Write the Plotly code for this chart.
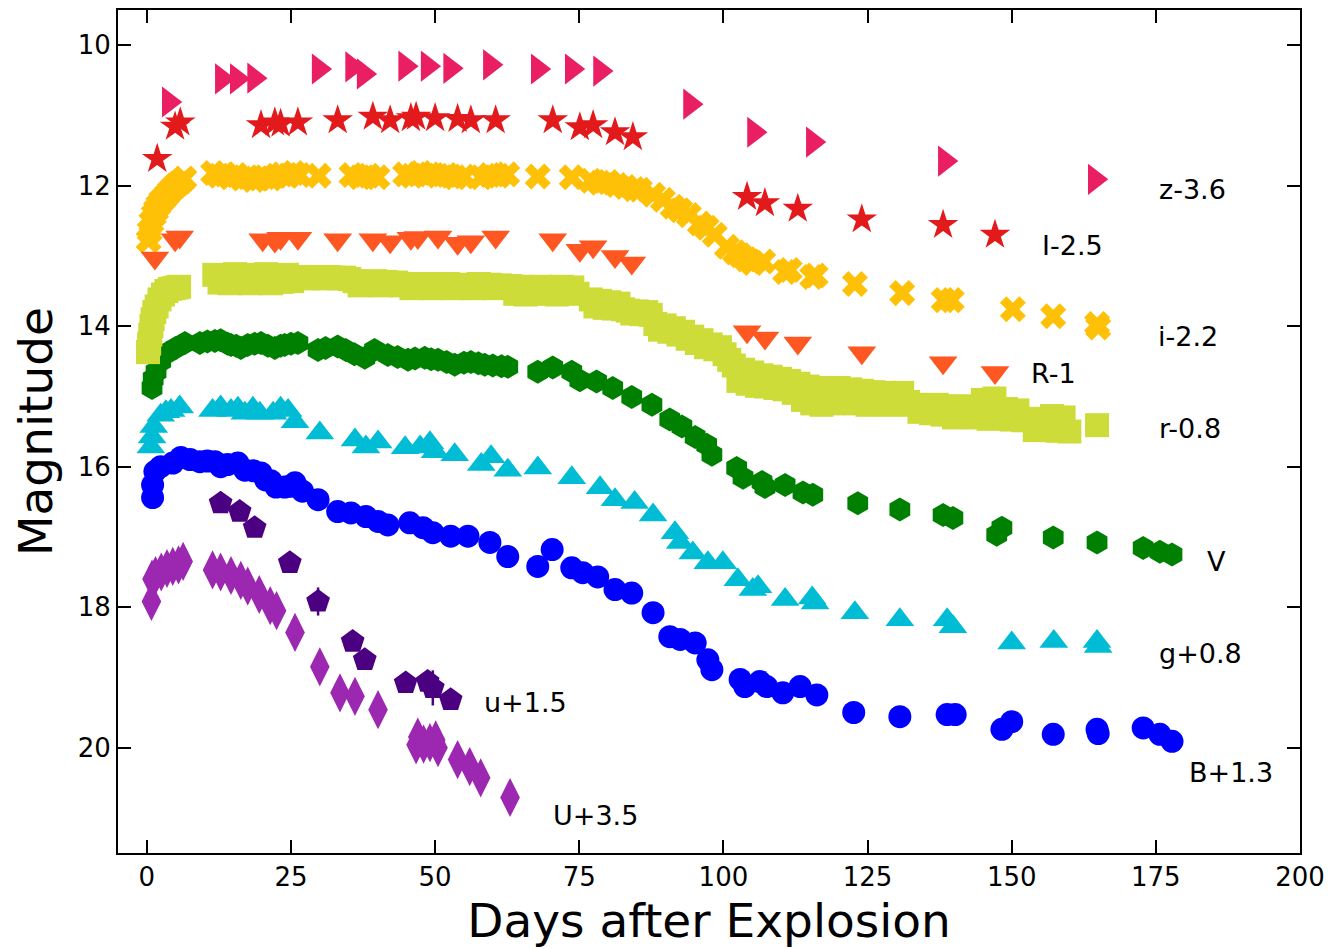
import plotly.graph_objects as go

# ---------------- data ----------------
z_days = [3.8, 13.0, 15.6, 18.6, 29.8, 35.6, 37.6, 44.8, 48.7, 52.6, 59.5, 67.8, 73.7, 78.6, 94.2, 105.3, 115.5, 138.4, 164.4]
z_mag = [10.81, 10.48, 10.48, 10.47, 10.34, 10.31, 10.41, 10.30, 10.30, 10.33, 10.28, 10.34, 10.34, 10.37, 10.84, 11.24, 11.38, 11.65, 11.91]

I_days = [1.8, 4.9, 5.8, 19.8, 22.2, 23.2, 26.2, 33.1, 39.2, 42.2, 45.8, 46.7, 50.0, 53.9, 56.2, 60.5, 70.4, 75.1, 77.4, 81.2, 84.3, 104.1, 107.2, 112.9, 124.0, 138.1, 147.1]
I_mag = [11.62, 11.16, 11.10, 11.14, 11.10, 11.12, 11.10, 11.07, 11.02, 11.07, 11.04, 11.02, 11.04, 11.05, 11.07, 11.07, 11.07, 11.17, 11.14, 11.24, 11.31, 12.16, 12.25, 12.33, 12.48, 12.56, 12.70]

i_days = [0.3, 0.5, 0.8, 1.2, 1.6, 2.0, 2.5, 3.0, 3.5, 4.0, 4.5, 5.0, 5.5, 6.0, 6.5,
          11.5, 12.5, 13.5, 14.5, 15.5, 16.5, 17.5, 18.5, 19.5, 20.5, 21.5, 22.5, 23.5, 24.5, 25.5, 26.5,
          29.8, 35.5, 37.0, 38.5, 40.0, 44.8, 46.0, 47.5, 49.0, 50.5, 52.0, 53.5, 55.0, 58.0, 59.5, 61.0, 62.5,
          67.8, 73.7, 77.0, 78.6, 80.0, 81.5, 83.0, 84.5, 85.5, 87.8, 89.5, 91.2, 92.5, 94.0, 95.9, 97.1, 98.5,
          100.6, 102.0, 102.9, 104.0, 105.1, 106.9, 110.7, 111.5, 115.4, 116.0, 122.8, 131.0, 138.2, 139.6,
          150.2, 157.2, 164.8, 165.0]
i_mag = [12.78, 12.65, 12.52, 12.42, 12.35, 12.28, 12.22, 12.18, 12.13, 12.08, 12.04, 12.00, 11.97, 11.94, 11.90,
         11.82, 11.86, 11.84, 11.88, 11.85, 11.90, 11.88, 11.92, 11.90, 11.88, 11.90, 11.86, 11.84, 11.86, 11.82, 11.85,
         11.86, 11.85, 11.88, 11.86, 11.88, 11.84, 11.86, 11.82, 11.84, 11.86, 11.85, 11.88, 11.87, 11.88, 11.85, 11.86, 11.84,
         11.87, 11.88, 11.93, 11.96, 11.95, 11.99, 12.02, 12.05, 12.06, 12.13, 12.20, 12.30, 12.35, 12.42, 12.54, 12.60, 12.70,
         12.87, 12.95, 12.99, 13.05, 13.10, 13.08, 13.23, 13.20, 13.30, 13.28, 13.40, 13.53, 13.63, 13.63,
         13.76, 13.86, 13.97, 14.02]

R_days = [1.4, 4.9, 5.7, 20.1, 22.2, 23.2, 26.2, 33.1, 39.2, 42.2, 45.8, 47.0, 50.5, 53.9, 56.2, 60.5, 70.4, 75.1, 77.4, 81.2, 84.1, 104.1, 107.2, 112.9, 124.0, 138.1, 147.1]
R_mag = [13.03, 12.77, 12.73, 12.77, 12.79, 12.75, 12.75, 12.77, 12.77, 12.80, 12.75, 12.74, 12.73, 12.82, 12.80, 12.73, 12.77, 12.92, 12.87, 13.01, 13.10, 14.08, 14.17, 14.24, 14.38, 14.52, 14.66]

r_days = [0.2, 0.4, 0.6, 0.8, 1.0, 1.3, 1.7, 2.2, 2.8, 3.4, 4.0, 4.6, 5.2, 5.6,
          11.7, 12.6, 13.5, 14.4, 15.3, 16.2, 17.1, 18.0, 18.9, 19.8, 20.7, 21.6, 22.5, 23.4, 24.3, 25.2,
          26.1, 27.0, 27.9, 28.8, 29.7, 30.6, 31.5, 32.4, 33.3, 34.2, 35.1, 36.0, 36.9, 37.8, 38.7, 39.6,
          40.5, 41.4, 42.3, 43.2, 44.1, 45.0, 45.9, 46.8, 47.7, 48.6, 49.5, 50.4, 51.3, 52.2, 53.1, 54.0,
          54.9, 55.8, 56.7, 57.6, 58.5, 59.4, 60.3, 61.2, 62.1, 63.0, 63.9, 64.8, 65.7, 66.6, 67.5, 68.4,
          69.3, 70.2, 71.1, 72.0, 72.9, 73.8, 74.7,
          77.0, 77.8, 78.6, 79.4, 80.2, 81.0, 81.8, 82.6, 83.4, 84.2, 85.0, 85.8, 86.6, 87.4, 88.2, 89.0,
          89.8, 90.6, 91.4, 92.2, 93.0, 93.8, 94.6, 95.4, 96.2, 97.0, 97.8, 98.6, 99.4, 100.2, 101.0, 101.8,
          102.6, 103.4, 104.2, 105.0, 105.8, 106.6, 107.4, 108.2, 109.0, 109.8, 110.6, 111.4, 112.2, 113.0,
          113.8, 114.6, 115.4, 116.2, 117.0, 118.0, 119.0, 120.0, 121.0, 122.0, 123.0, 124.0, 125.0, 126.0,
          127.0, 128.0, 129.0, 130.0, 131.0, 132.0, 133.0, 134.0, 135.0, 136.0, 137.0, 138.0, 139.0, 140.0,
          141.0, 142.0, 143.0, 144.0, 145.0, 146.0, 147.0, 148.0, 149.0, 150.0, 151.0, 152.0, 153.0, 154.0,
          155.0, 156.0, 157.0, 158.0, 159.0, 160.0, 164.8]
r_mag = [14.37, 14.25, 14.12, 14.00, 13.90, 13.80, 13.72, 13.62, 13.55, 13.50, 13.47, 13.46, 13.45, 13.44,
         13.27, 13.38, 13.28, 13.39, 13.26, 13.37, 13.28, 13.39, 13.27, 13.38, 13.26, 13.39, 13.28, 13.37, 13.27, 13.36,
         13.31, 13.30, 13.32, 13.30, 13.31, 13.32, 13.30, 13.31, 13.32, 13.31, 13.33, 13.36, 13.42, 13.37, 13.41, 13.36,
         13.42, 13.37, 13.41, 13.38, 13.42, 13.40, 13.46, 13.41, 13.45, 13.40, 13.46, 13.41, 13.45, 13.40, 13.46, 13.42,
         13.45, 13.41, 13.46, 13.40, 13.45, 13.41, 13.46, 13.42, 13.45, 13.43, 13.54, 13.44, 13.55, 13.45, 13.53, 13.44,
         13.54, 13.45, 13.55, 13.44, 13.53, 13.45, 13.54,
         13.62, 13.72, 13.64, 13.74, 13.66, 13.75, 13.68, 13.76, 13.78, 13.82, 13.79, 13.83, 13.80, 13.84, 13.97, 14.05,
         13.99, 14.08, 14.03, 14.12, 14.08, 14.18, 14.15, 14.24, 14.20, 14.30, 14.26, 14.33, 14.30, 14.40, 14.48, 14.56,
         14.78, 14.62, 14.82, 14.66, 14.85, 14.70, 14.86, 14.72, 14.88, 14.75, 14.90, 14.78, 14.95, 14.82,
         15.05, 14.86, 15.10, 14.88, 15.12, 14.90, 15.10, 14.88, 15.08, 14.90, 15.10, 14.92, 15.12, 14.94,
         15.10, 14.95, 15.12, 14.98, 14.95, 15.08, 15.12, 15.22, 15.14, 15.24, 15.12, 15.26, 15.15, 15.30,
         15.14, 15.28, 15.16, 15.30, 15.05, 15.32, 15.03, 15.30, 15.18, 15.33, 15.20, 15.34, 15.32, 15.48,
         15.36, 15.48, 15.28, 15.49, 15.30, 15.50, 15.41]

V_days = [0.9, 1.1, 1.6, 2.4, 3.6, 5.0, 6.6, 9.2, 10.5, 11.8, 12.8, 14.0, 14.6, 15.5, 16.3, 17.5, 18.7, 19.8,
          21.0, 22.2, 23.2, 23.9, 25.0, 26.2, 29.7, 31.0, 33.1, 34.5, 36.0, 37.8, 39.5, 41.8, 43.5, 45.3, 46.5,
          48.2, 49.3, 50.5, 52.0, 53.4, 55.0, 56.2, 57.5, 58.6, 60.0, 61.5, 62.6, 67.8, 70.4, 73.7, 75.1, 78.0,
          80.8, 84.1, 87.6, 90.7, 92.8, 95.1, 97.1, 98.0, 102.3, 103.4, 106.7, 107.2, 110.7, 113.8, 115.5, 123.3,
          130.6, 138.1, 139.8, 147.4, 148.3, 157.2, 164.8, 172.8, 175.7, 177.8]
V_mag = [14.88, 14.75, 14.65, 14.50, 14.38, 14.31, 14.24, 14.24, 14.22, 14.21, 14.20, 14.25, 14.27, 14.28, 14.31, 14.27, 14.25, 14.24,
         14.28, 14.31, 14.28, 14.27, 14.25, 14.24, 14.34, 14.31, 14.29, 14.34, 14.40, 14.45, 14.34, 14.41, 14.44, 14.48, 14.46,
         14.45, 14.47, 14.48, 14.51, 14.55, 14.52, 14.51, 14.53, 14.55, 14.56, 14.57, 14.58, 14.65, 14.59, 14.65, 14.77, 14.79,
         14.88, 15.01, 15.12, 15.33, 15.43, 15.58, 15.69, 15.83, 16.02, 16.16, 16.22, 16.29, 16.26, 16.37, 16.40, 16.52,
         16.61, 16.69, 16.73, 16.97, 16.87, 17.01, 17.08, 17.16, 17.21, 17.25]

g_days = [0.7, 0.9, 1.2, 2.4, 3.3, 4.2, 5.7, 11.4, 12.8, 14.6, 15.8, 17.0, 18.4, 19.6, 21.9, 23.2, 24.5, 25.7, 30.0,
          36.1, 38.0, 40.1, 44.8, 47.4, 49.1, 50.0, 53.4, 58.0, 59.7, 62.6, 67.8, 73.7, 78.6, 81.2, 84.6, 87.8,
          91.6, 92.5, 94.7, 97.3, 99.9, 102.5, 105.1, 106.0, 110.7, 115.4, 115.9, 122.8, 130.6, 138.8, 139.8,
          150.0, 157.3, 164.8, 165.0]
g_mag = [15.72, 15.58, 15.43, 15.27, 15.22, 15.20, 15.15, 15.20, 15.15, 15.20, 15.17, 15.24, 15.17, 15.24, 15.24, 15.17, 15.20, 15.36, 15.52,
         15.62, 15.72, 15.65, 15.73, 15.72, 15.66, 15.79, 15.83, 15.97, 15.86, 16.05, 16.02, 16.16, 16.30, 16.47, 16.51, 16.69,
         16.94, 17.08, 17.23, 17.37, 17.37, 17.61, 17.75, 17.71, 17.89, 17.87, 17.94, 18.08, 18.18, 18.18, 18.28,
         18.51, 18.49, 18.49, 18.56]

B_days = [1.0, 1.0, 1.4, 2.4, 4.5, 5.9, 7.5, 9.2, 10.5, 11.8, 12.8, 14.0, 15.8, 17.0, 18.5, 19.8, 20.6, 21.5, 22.4,
          23.9, 24.8, 25.7, 27.0, 29.7, 33.1, 35.4, 38.0, 40.1, 41.8, 45.6, 47.9, 49.6, 52.7, 55.7, 59.5, 62.6,
          67.8, 70.3, 73.7, 75.6, 78.2, 81.2, 84.1, 87.8, 90.7, 92.5, 95.1, 97.3, 98.0, 102.9, 103.7, 106.3, 107.5,
          110.3, 113.3, 116.2, 122.6, 130.6, 138.8, 140.2, 148.3, 150.0, 157.2, 164.8, 165.0, 172.8, 175.7, 177.8]
B_mag = [16.44, 16.26, 16.07, 16.00, 15.95, 15.87, 15.90, 15.93, 15.92, 15.93, 16.00, 15.97, 15.95, 16.05, 16.06, 16.09, 16.19, 16.20, 16.29,
         16.29, 16.28, 16.23, 16.35, 16.47, 16.64, 16.66, 16.71, 16.78, 16.83, 16.80, 16.87, 16.94, 16.99, 16.99, 17.08, 17.28,
         17.42, 17.18, 17.44, 17.51, 17.57, 17.75, 17.80, 18.08, 18.42, 18.46, 18.51, 18.75, 18.89, 19.03, 19.13, 19.06, 19.13,
         19.22, 19.13, 19.25, 19.50, 19.56, 19.53, 19.53, 19.74, 19.63, 19.81, 19.74, 19.80, 19.72, 19.81, 19.91]

u_days = [12.8, 16.1, 18.7, 24.8, 29.7, 35.7, 37.8, 44.9, 48.7, 49.6, 52.7]
u_mag = [16.52, 16.64, 16.87, 17.37, 17.92, 18.49, 18.75, 19.08, 19.06, 19.15, 19.32]
u_err = [0, 0, 0, 0, 0.2, 0, 0, 0, 0, 0.25, 0]

U_days = [0.8, 0.9, 1.5, 2.5, 3.5, 4.5, 5.5, 6.3, 11.4, 12.8, 14.6, 16.3, 17.5, 19.5, 21.4, 22.5, 25.7, 30.0, 33.5,
          36.1, 40.1, 46.7, 47.0, 48.0, 49.1, 50.1, 50.5, 53.9, 56.0, 57.9, 63.0]
U_mag = [17.92, 17.60, 17.55, 17.50, 17.45, 17.42, 17.40, 17.35, 17.47, 17.50, 17.55, 17.62, 17.70, 17.82, 17.98, 18.05, 18.36, 18.85, 19.22,
         19.27, 19.46, 19.96, 19.85, 19.95, 19.93, 19.89, 20.00, 20.17, 20.27, 20.43, 20.71]

label_text = ["z-3.6", "I-2.5", "i-2.2", "R-1", "r-0.8", "V", "g+0.8", "B+1.3", "u+1.5", "U+3.5"]
label_x = [181.3, 160.6, 180.6, 157.3, 180.9, 185.6, 182.7, 188.0, 65.7, 77.9]
label_y = [12.06, 12.85, 14.15, 14.67, 15.46, 17.35, 18.66, 20.36, 19.36, 20.97]

x_ticks = [0, 25, 50, 75, 100, 125, 150, 175, 200]
y_ticks = [10, 12, 14, 16, 18, 20]

# ---------------- figure ----------------
FONT = "DejaVu Sans"
fig = go.Figure()

series = [
    (U_days, U_mag, None, "#9C27B0", "diamond-tall", 28),
    (u_days, u_mag, u_err, "#4B0082", "pentagon", 25),
    (B_days, B_mag, None, "#0000FF", "circle", 23),
    (g_days, g_mag, None, "#00BCD4", "triangle-up", 25),
    (V_days, V_mag, None, "#008000", "hexagon", 24),
    (r_days, r_mag, None, "#CDDC39", "square", 24),
    (i_days, i_mag, None, "#FFC107", "x", 23),
    (R_days, R_mag, None, "#FF5722", "triangle-down", 25),
    (I_days, I_mag, None, "#E31A1C", "star", 23),
    (z_days, z_mag, None, "#E91E63", "triangle-right", 27),
]

for xs, ys, err, col, sym, sz in series:
    kw = {}
    if err is not None:
        kw["error_y"] = dict(type="data", array=err, visible=True, color=col, thickness=2.5, width=0)
    fig.add_trace(go.Scatter(
        x=xs, y=ys, mode="markers",
        marker=dict(symbol=sym, size=sz, color=col, line=dict(width=0)),
        showlegend=False, hoverinfo="skip", **kw))

for t, lx, ly in zip(label_text, label_x, label_y):
    fig.add_annotation(x=lx, y=ly, text=t, showarrow=False, xanchor="center", yanchor="middle",
                       font=dict(family=FONT, size=27, color="black"))

axis_common = dict(showline=True, linewidth=2, linecolor="black", mirror="ticks",
                   ticks="inside", ticklen=13, tickwidth=2, tickcolor="black",
                   showgrid=False, zeroline=False, automargin=False,
                   tickfont=dict(family=FONT, size=26, color="black"))

fig.update_xaxes(range=[-5, 200], tickvals=x_ticks,
                 title=dict(text="Days after Explosion", font=dict(family=FONT, size=47, color="black"), standoff=13),
                 **axis_common)
fig.update_yaxes(range=[21.5, 9.5], tickvals=y_ticks,
                 title=dict(text="Magnitude", font=dict(family=FONT, size=47, color="black"), standoff=20),
                 **axis_common)

# the page body adds an 8px offset, so the figure is 8px smaller and margins shifted
fig.update_layout(width=1335, height=941, margin=dict(l=110, r=43, t=2, b=96),
                  plot_bgcolor="white", paper_bgcolor="white",
                  font=dict(family=FONT))

fig.write_html("out.html")
